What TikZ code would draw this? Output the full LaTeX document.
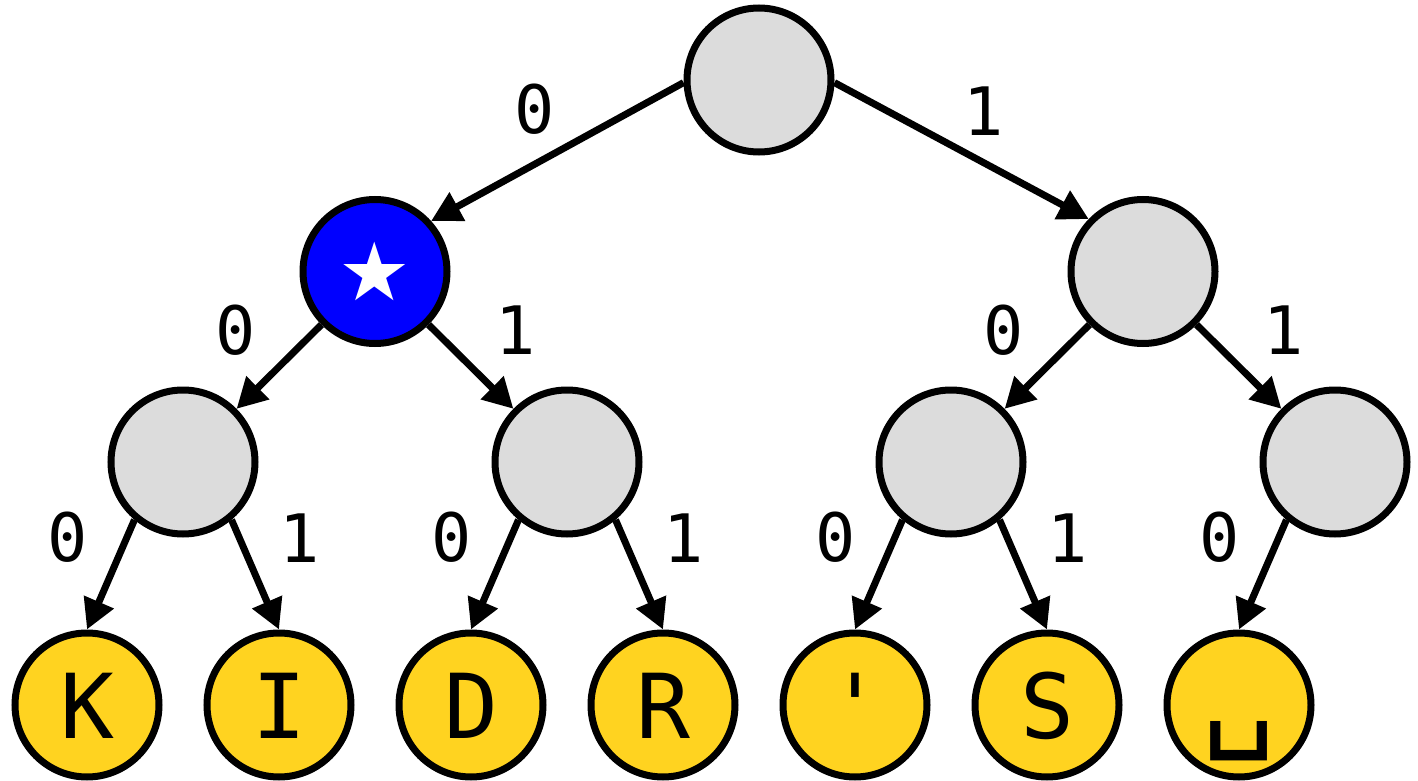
\documentclass[tikz,border=0pt]{standalone}
\usepackage{fontspec}
\usepackage{tikz}
\usetikzlibrary{arrows.meta, positioning}
\newfontfamily\codefont{DejaVu Sans Mono}[Ligatures=TeXOff]
\newfontfamily\symfont{DejaVu Sans}
\definecolor{nodegray}{RGB}{220, 220, 220}
\definecolor{leafgold}{RGB}{255, 211, 32}
\definecolor{starblue}{RGB}{0, 0, 255}

\tikzset{
    branch/.style={circle, draw, line width=0.14cm, fill=nodegray, minimum size=2.88cm, inner sep=0pt},
    marked/.style={branch, fill=starblue, text=white, font=\symfont\fontsize{46}{46}\selectfont},
    leaf/.style={branch, fill=leafgold, font=\codefont\fontsize{51}{51}\selectfont, text height=1.32cm, text depth=0pt},
    bit/.style={font=\codefont\fontsize{38}{38}\selectfont, midway, inner sep=0pt},
    bitl/.style={bit, xshift=-0.87cm, yshift=0.74cm},
    bitr/.style={bit, xshift=0.89cm, yshift=0.74cm},
    edgeat/.style 2 args={edge from parent path={(\tikzparentnode.#1) -- (\tikzchildnode.#2)}}
}
% the space key is drawn a bit larger than the letters
\newcommand{\spacekey}{{\fontsize{71}{71}\selectfont\raisebox{0.12cm}{␣}}}

\begin{document}
\begin{tikzpicture}[
    edge from parent/.style={draw, line width=0.14cm, -{Triangle[length=0.6cm, width=0.62cm]}},
    level 1/.style={level distance=3.83cm, sibling distance=15.36cm},
    level 2/.style={level distance=3.81cm, sibling distance=7.68cm,
        edge from parent path={(\tikzparentnode) -- (\tikzchildnode)}},
    level 3/.style={level distance=4.86cm, sibling distance=3.84cm}
]
    \useasboundingbox (0,0) rectangle (28.36,-15.62);
    \node[branch] (root) at (15.18,-1.6) {}
        % left half: K I D R
        child[edgeat={182}{42}] { node[marked] {★}
            child { node[branch] {}
                child[edgeat={-130}{90}] { node[leaf] {K} edge from parent node[bitl] {0} }
                child[edgeat={-50}{90}] { node[leaf] {I} edge from parent node[bitr] {1} }
                edge from parent node[bitl] {0}
            }
            child { node[branch] {}
                child[edgeat={-130}{90}] { node[leaf] {D} edge from parent node[bitl] {0} }
                child[edgeat={-50}{90}] { node[leaf] {R} edge from parent node[bitr] {1} }
                edge from parent node[bitr] {1}
            }
            edge from parent node[bit, xshift=-0.46cm, yshift=0.86cm] {0}
        }
        % right half: ' S and space
        child[edgeat={-2}{136}] { node[branch] {}
            child { node[branch] {}
                child[edgeat={-130}{90}] { node[leaf] {'} edge from parent node[bitl] {0} }
                child[edgeat={-50}{90}] { node[leaf] {S} edge from parent node[bitr] {1} }
                edge from parent node[bitl] {0}
            }
            child { node[branch] {}
                child[edgeat={-130}{90}] { node[leaf] {\spacekey} edge from parent node[bitl] {0} }
                child[missing]
                edge from parent node[bitr] {1}
            }
            edge from parent node[bit, xshift=0.44cm, yshift=0.8cm] {1}
        };
\end{tikzpicture}
\end{document}
